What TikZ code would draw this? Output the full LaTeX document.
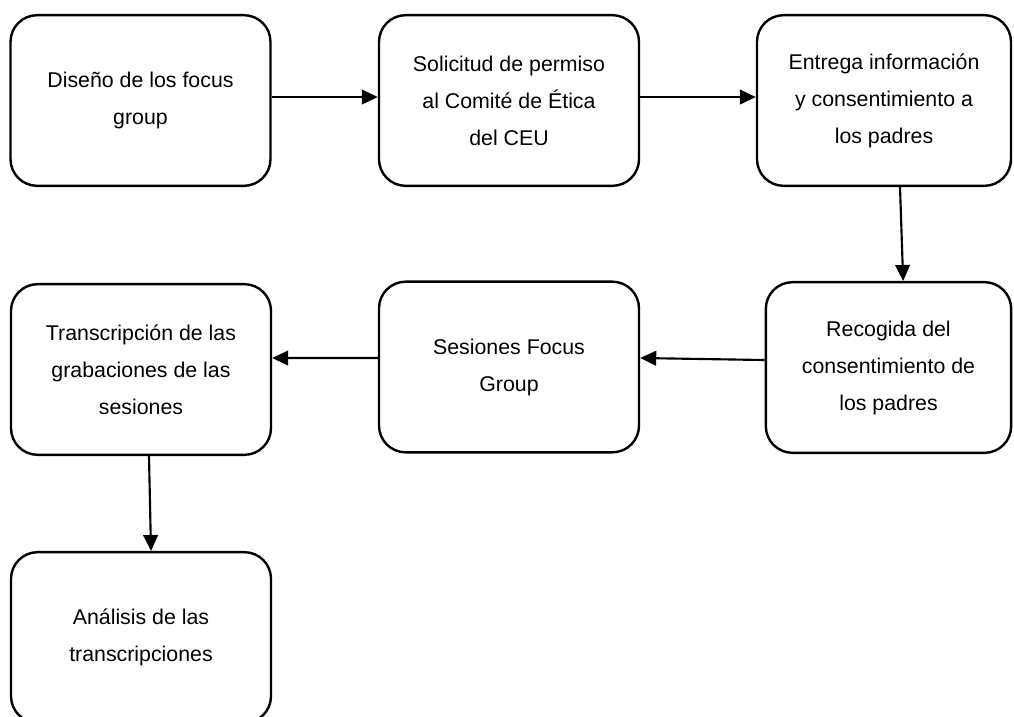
\documentclass[tikz,border=0pt]{standalone}
\usepackage{fontspec}
\setmainfont{Liberation Sans}
\usepackage{tikz}
\usetikzlibrary{shapes,arrows.meta}

\begin{document}
\begin{tikzpicture}[x=0.75pt,y=-0.75pt,
		box/.style={rectangle,draw,rounded corners=20pt,line width=1.8pt,minimum width=195pt,minimum height=128pt,align=center,font=\fontsize{16}{27.75}\selectfont},
		flow/.style={-{Triangle[length=12pt,width=11pt]},line width=1.6pt}]
			\useasboundingbox (0,0) rectangle (1014,717);

			\node[box] (diseno) at (140.5,100.5) {Diseño de los focus\\group};
			\node[box] (permiso) at (509,100.5) {Solicitud de permiso\\al Comité de Ética\\del CEU};
			\node[box,minimum width=190.5pt] (entrega) at (884,100.5) {Entrega información\\y consentimiento a\\los padres};
			\node[box,minimum width=184pt] (recogida) at (888.5,367.5) {Recogida del\\consentimiento de\\los padres};
			\node[box] (sesiones) at (509,367) {Sesiones Focus\\Group};
			\node[box] (transcripcion) at (141,369.5) {Transcripción de las\\grabaciones de las\\sesiones};
			\node[box] (analisis) at (141,637.5) {Análisis de las\\transcripciones};

			\draw[flow] ([yshift=2.6pt]diseno.east) -- ([yshift=2.6pt]permiso.west);
			\draw[flow] ([yshift=2.6pt]permiso.east) -- ([yshift=2.6pt]entrega.west);
			\draw[flow] ([xshift=12pt]entrega.south) -- ([xshift=11pt]recogida.north);
			\draw[flow] ([yshift=5.6pt]recogida.west) -- ([yshift=6.75pt]sesiones.east);
			\draw[flow] ([yshift=6.75pt]sesiones.west) -- ([yshift=8.6pt]transcripcion.east);
			\draw[flow] ([xshift=6pt]transcripcion.south) -- ([xshift=7.5pt]analisis.north);
		\end{tikzpicture}
\end{document}
